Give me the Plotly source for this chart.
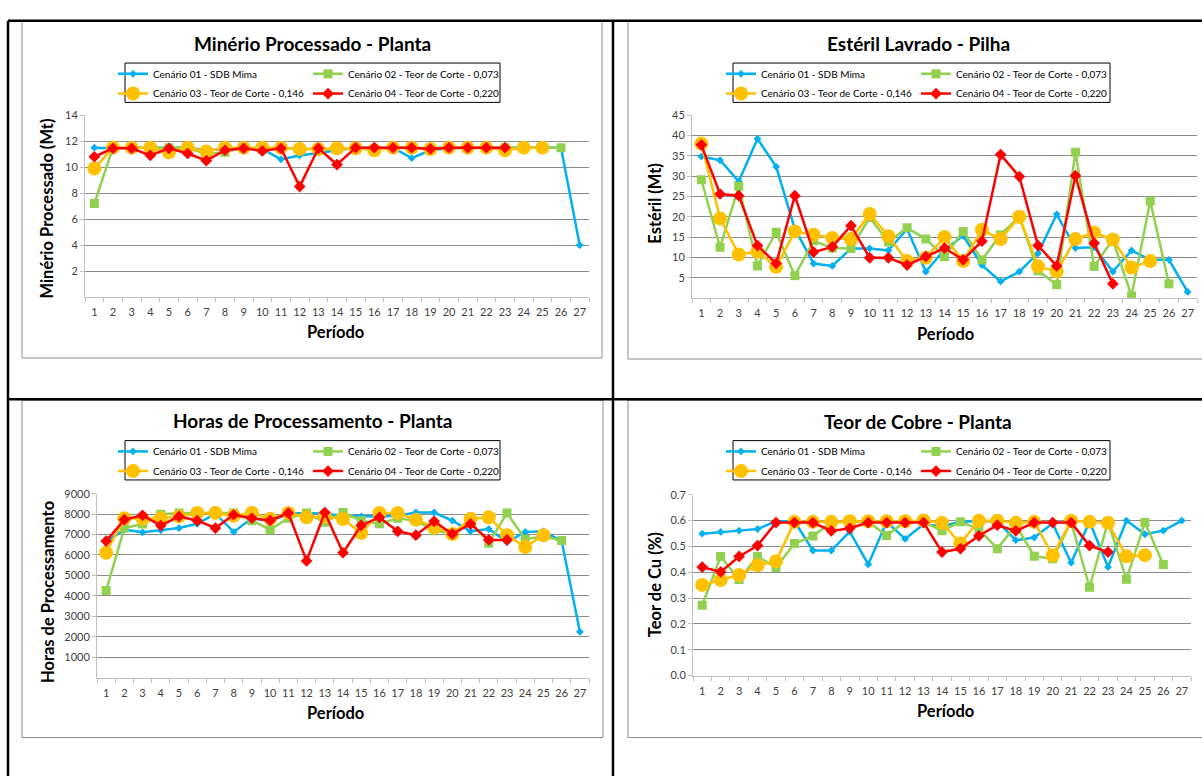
import plotly.graph_objects as go

W, H = 1202, 776

PERIODS = list(range(1, 28))
SERIES_NAMES = ["Cenário 01 - SDB Mima", "Cenário 02 - Teor de Corte - 0,073",
                "Cenário 03 - Teor de Corte - 0,146", "Cenário 04 - Teor de Corte - 0,220"]

# Minério Processado - Planta (Mt)
min_c1 = [11.5, 11.45, 11.5, 11.5, 11.5, 11.5, 11.3, 11.4, 11.5, 11.4, 10.6, 10.9, 11.1, 11.35, 11.5, 11.5, 11.5, 10.7, 11.3, 11.45, 11.5, 11.5, 11.5, 11.5, 11.5, 11.5, 4.0]
min_c2 = [7.2, 11.5, 11.5, 11.5, 11.5, 11.5, 11.0, 11.15, 11.5, 11.4, 11.5, 11.4, 11.4, 11.35, 11.5, 11.4, 11.5, 11.5, 11.5, 11.5, 11.5, 11.5, 11.5, 11.5, 11.5, 11.5]
min_c3 = [9.9, 11.5, 11.5, 11.5, 11.15, 11.5, 11.2, 11.5, 11.5, 11.5, 11.5, 11.4, 11.4, 11.45, 11.45, 11.3, 11.5, 11.5, 11.4, 11.5, 11.5, 11.5, 11.3, 11.5, 11.5]
min_c4 = [10.8, 11.45, 11.45, 10.9, 11.45, 11.05, 10.5, 11.3, 11.45, 11.25, 11.45, 8.5, 11.45, 10.2, 11.5, 11.5, 11.5, 11.5, 11.4, 11.5, 11.5, 11.5, 11.5]

# Estéril Lavrado - Pilha (Mt)
est_c1 = [34.8, 33.9, 28.7, 39.2, 32.3, 17.0, 8.5, 7.9, 12.2, 12.2, 11.7, 17.0, 6.5, 11.9, 15.3, 8.1, 4.1, 6.5, 11.0, 20.6, 12.3, 12.5, 6.5, 11.7, 9.4, 9.4, 1.5]
est_c2 = [29.1, 12.5, 27.5, 7.9, 16.2, 5.5, 14.1, 12.3, 12.2, 19.8, 13.8, 17.3, 14.5, 10.2, 16.4, 9.4, 15.6, 20.0, 6.7, 3.3, 35.9, 7.8, 14.4, 0.5, 23.9, 3.5]
est_c3 = [38.0, 19.6, 10.7, 11.4, 7.7, 16.4, 15.6, 14.8, 14.5, 20.7, 15.2, 9.1, 9.9, 15.0, 9.1, 16.8, 14.5, 20.0, 7.8, 6.5, 14.5, 16.1, 14.4, 7.5, 9.1]
est_c4 = [37.7, 25.6, 25.2, 12.9, 8.5, 25.2, 11.3, 12.6, 17.8, 9.9, 9.9, 8.1, 10.2, 12.3, 9.4, 14.0, 35.3, 29.9, 12.9, 7.9, 30.1, 13.5, 3.5]

# Horas de Processamento - Planta
hor_c1 = [6650, 7240, 7110, 7210, 7320, 7530, 8020, 7130, 7800, 7650, 8020, 8050, 8020, 7920, 7890, 7890, 7920, 8080, 8080, 7680, 7160, 7270, 6630, 7130, 7160, 6680, 2240]
hor_c2 = [4260, 7320, 7520, 8000, 8050, 8050, 8050, 8050, 7680, 7240, 7800, 8050, 7600, 8080, 7680, 7530, 7800, 7680, 7190, 7080, 7650, 6580, 8050, 6760, 6920, 6710]
hor_c3 = [6110, 7800, 7770, 7800, 7890, 8060, 8060, 7920, 8060, 7770, 8060, 7850, 7890, 7760, 7080, 8060, 8050, 7730, 7350, 7030, 7770, 7850, 6970, 6390, 6970]
hor_c4 = [6680, 7730, 7940, 7440, 7890, 7680, 7320, 7970, 7800, 7690, 8050, 5710, 8080, 6110, 7450, 7840, 7160, 6970, 7650, 7030, 7520, 6740, 6740]

# Teor de Cobre - Planta (%)
cu_c1 = [0.549, 0.556, 0.561, 0.567, 0.597, 0.597, 0.484, 0.484, 0.557, 0.43, 0.595, 0.529, 0.586, 0.578, 0.595, 0.597, 0.597, 0.524, 0.534, 0.589, 0.437, 0.595, 0.42, 0.6, 0.547, 0.561, 0.6]
cu_c2 = [0.272, 0.461, 0.372, 0.461, 0.418, 0.511, 0.54, 0.592, 0.595, 0.595, 0.542, 0.595, 0.595, 0.56, 0.595, 0.567, 0.491, 0.582, 0.462, 0.452, 0.595, 0.342, 0.595, 0.373, 0.592, 0.43]
cu_c3 = [0.351, 0.37, 0.389, 0.427, 0.442, 0.595, 0.595, 0.595, 0.597, 0.597, 0.597, 0.597, 0.6, 0.591, 0.511, 0.599, 0.599, 0.591, 0.595, 0.465, 0.599, 0.595, 0.591, 0.462, 0.466]
cu_c4 = [0.42, 0.401, 0.461, 0.503, 0.592, 0.592, 0.592, 0.56, 0.57, 0.592, 0.592, 0.592, 0.592, 0.478, 0.491, 0.541, 0.582, 0.56, 0.592, 0.592, 0.592, 0.503, 0.478]

min_ticks = [2, 4, 6, 8, 10, 12, 14]
est_ticks = [5, 10, 15, 20, 25, 30, 35, 40, 45]
hor_ticks = [1000, 2000, 3000, 4000, 5000, 6000, 7000, 8000, 9000]
cu_ticks = [0.0, 0.1, 0.2, 0.3, 0.4, 0.5, 0.6, 0.7]

FONT = "Lato"
COLORS = ["#00B0F0", "#92D050", "#FFC000", "#FF0000"]
SYMBOLS = ["diamond", "square", "circle", "diamond"]
MSIZES = [6, 9, 14, 9]


def X(px):
    return px / W


def Y(py):
    return 1 - py / H


panels = [
    dict(title="Minério Processado - Planta", ytitle="Minério Processado (Mt)",
         data=[min_c1, min_c2, min_c3, min_c4], ticks=min_ticks, ymax=14, fmt="",
         plot=(85, 589, 110, 295), tpos=(312, 37), ytpos=(47, 205), xtpos=(336, 331),
         leg=(125, 500, 57, 97)),
    dict(title="Estéril Lavrado - Pilha", ytitle="Estéril (Mt)",
         data=[est_c1, est_c2, est_c3, est_c4], ticks=est_ticks, ymax=45, fmt="",
         plot=(692, 1197, 110, 296), tpos=(918, 37), ytpos=(655, 200), xtpos=(945, 333),
         leg=(733, 1110, 57, 97)),
    dict(title="Horas de Processamento - Planta", ytitle="Horas de Processamento",
         data=[hor_c1, hor_c2, hor_c3, hor_c4], ticks=hor_ticks, ymax=9000, fmt="",
         plot=(97, 589, 495, 682), tpos=(312, 421), ytpos=(48, 595), xtpos=(336, 718),
         leg=(125, 500, 441, 481)),
    dict(title="Teor de Cobre - Planta", ytitle="Teor de Cu (%)",
         data=[cu_c1, cu_c2, cu_c3, cu_c4], ticks=cu_ticks, ymax=0.7, fmt=".1f",
         plot=(693, 1191, 496, 680), tpos=(918, 422), ytpos=(655, 588), xtpos=(945, 716),
         leg=(733, 1110, 441, 481)),
]

fig = go.Figure()
layout = dict(width=W, height=H, margin=dict(l=0, r=0, t=0, b=0),
              paper_bgcolor="white", plot_bgcolor="white",
              font=dict(family=FONT, color="#000000"), showlegend=True)
annotations = []
shapes = []

for i, p in enumerate(panels):
    n = i + 1
    xa = "x" if n == 1 else f"x{n}"
    ya = "y" if n == 1 else f"y{n}"
    x0, x1, y0, y1 = p["plot"]
    for k, vals in enumerate(p["data"]):
        legname = f"legend{2 * i + 1}" if k < 2 else f"legend{2 * i + 2}"
        if legname == "legend1":
            legname = "legend"
        fig.add_trace(go.Scatter(
            x=PERIODS[:len(vals)], y=vals, name=SERIES_NAMES[k], mode="lines+markers",
            line=dict(color=COLORS[k], width=2.5),
            marker=dict(symbol=SYMBOLS[k], size=MSIZES[k], color=COLORS[k]),
            xaxis=xa, yaxis=ya, legend=legname, showlegend=True))

    xkey = "xaxis" if n == 1 else f"xaxis{n}"
    ykey = "yaxis" if n == 1 else f"yaxis{n}"
    layout[xkey] = dict(domain=[X(x0), X(x1)], anchor=ya, range=[0.5, 27.5],
                        tickmode="array", tickvals=PERIODS, ticktext=[str(v) for v in PERIODS],
                        ticks="", showgrid=False, zeroline=False, showline=True,
                        linecolor="#bfbfbf", linewidth=1, ticklabelstandoff=5,
                        tickfont=dict(family=FONT, size=11, color="#404040"),
                        minor=dict(tick0=0.5, dtick=1, ticks="outside", ticklen=4,
                                   tickcolor="#bfbfbf", showgrid=False))
    layout[ykey] = dict(domain=[Y(y1), Y(y0)], anchor=xa, range=[0, p["ymax"]],
                        tickmode="array", tickvals=p["ticks"], tickformat=p["fmt"],
                        ticks="outside", ticklen=4, tickcolor="#bfbfbf",
                        showgrid=True, gridcolor="#8c8c8c", gridwidth=1,
                        zeroline=False, showline=True, linecolor="#bfbfbf", linewidth=1,
                        tickfont=dict(family=FONT, size=11, color="#404040"))

    annotations.append(dict(text=f"<b>{p['title']}</b>", x=X(p["tpos"][0]), y=Y(p["tpos"][1]),
                            xref="paper", yref="paper", showarrow=False,
                            xanchor="center", yanchor="middle",
                            font=dict(family=FONT, size=19, color="#000000")))
    annotations.append(dict(text=f"<b>{p['ytitle']}</b>", x=X(p["ytpos"][0]), y=Y(p["ytpos"][1]),
                            xref="paper", yref="paper", showarrow=False, textangle=-90,
                            xanchor="center", yanchor="middle",
                            font=dict(family=FONT, size=16.5, color="#000000")))
    annotations.append(dict(text="<b>Período</b>", x=X(p["xtpos"][0]), y=Y(p["xtpos"][1]),
                            xref="paper", yref="paper", showarrow=False,
                            xanchor="center", yanchor="middle",
                            font=dict(family=FONT, size=16.5, color="#000000")))

    lx0, lx1, ly0, ly1 = p["leg"]
    shapes.append(dict(type="rect", xref="paper", yref="paper",
                       x0=X(lx0), x1=X(lx1), y0=Y(ly1), y1=Y(ly0),
                       line=dict(color="#000000", width=1), fillcolor="rgba(0,0,0,0)"))
    for r in range(2):
        lname = f"legend{2 * i + 1 + r}"
        if lname == "legend1":
            lname = "legend"
        yc = ly0 + 11 + r * 20
        layout[lname] = dict(x=X(lx0 - 12), y=Y(yc), xanchor="left", yanchor="middle",
                             orientation="h", bgcolor="rgba(0,0,0,0)", borderwidth=0,
                             entrywidth=150, entrywidthmode="pixels", itemwidth=30,
                             tracegroupgap=0,
                             font=dict(family=FONT, size=10, color="#000000"))

# chart area borders (gray) and table lines (black)
for (cx0, cy0, cx1, cy1) in [(22, 14, 602, 357), (628, 14, 1215, 358),
                             (22, 400, 603, 743), (628, 400, 1215, 743)]:
    shapes.append(dict(type="rect", xref="paper", yref="paper",
                       x0=X(cx0), x1=X(cx1), y0=Y(cy1), y1=Y(cy0),
                       line=dict(color="#8c8c8c", width=1), fillcolor="rgba(0,0,0,0)", layer="below"))
for (ax0, ay0, ax1, ay1) in [(8, 14, 1210, 14), (8, 14, 8, 790), (613, 14, 613, 790),
                             (8, 399, 1210, 399)]:
    shapes.append(dict(type="line", xref="paper", yref="paper",
                       x0=X(ax0), x1=X(ax1), y0=Y(ay0), y1=Y(ay1),
                       line=dict(color="#000000", width=2.5)))

layout["annotations"] = annotations
layout["shapes"] = shapes
fig.update_layout(**layout)

fig.write_html("out.html", config={"displayModeBar": False},
               post_script="document.body.style.margin='0';")
